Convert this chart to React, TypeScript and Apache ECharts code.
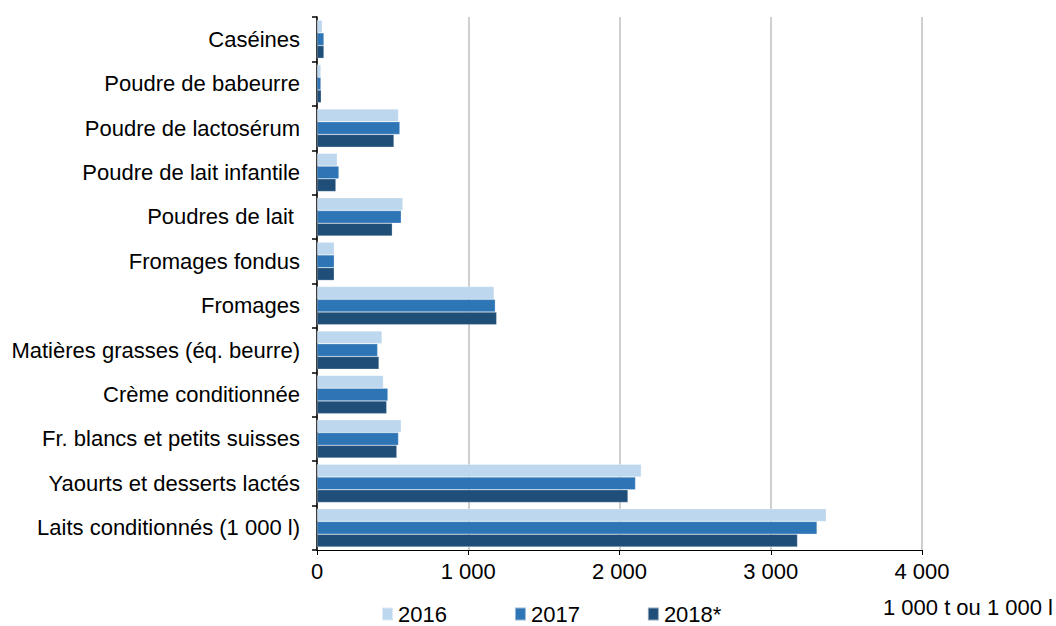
import React, { useEffect, useRef } from "react";
import * as echarts from "echarts";

const categories = [
  "Caséines",
  "Poudre de babeurre",
  "Poudre de lactosérum",
  "Poudre de lait infantile",
  "Poudres de lait ",
  "Fromages fondus",
  "Fromages",
  "Matières grasses (éq. beurre)",
  "Crème conditionnée",
  "Fr. blancs et petits suisses",
  "Yaourts et desserts lactés",
  "Laits conditionnés (1 000 l)",
];
const v2016 = [35, 26, 539, 134, 568, 114, 1171, 430, 439, 557, 2144, 3367];
const v2017 = [46, 26, 548, 145, 557, 114, 1179, 401, 469, 539, 2106, 3306];
const v2018 = [46, 28, 509, 125, 498, 114, 1188, 410, 461, 528, 2056, 3177];
const seriesNames = ["2016", "2017", "2018*"];
const colors = ["#BDD7EE", "#2E75B6", "#1F4E79"];
const unitLabel = "1 000 t ou 1 000 l";

const FONT = "'Liberation Sans', Arial, sans-serif";

export default function App() {
  const ref = useRef<HTMLDivElement>(null);
  useEffect(() => {
    if (!ref.current) return;
    const chart = echarts.init(ref.current, null, { renderer: "svg" });
    const data = [v2016, v2017, v2018];
    chart.setOption({
      animation: false,
      textStyle: { fontFamily: FONT },
      grid: { left: 317, right: 134, top: 17, bottom: 76 },
      legend: {
        data: seriesNames,
        left: 376,
        top: 598,
        itemWidth: 11,
        itemHeight: 13,
        itemGap: 67,
        icon: "rect",
        textStyle: { fontFamily: FONT, fontSize: 22, color: "#000" },
      },
      xAxis: {
        type: "value",
        min: 0,
        max: 4000,
        interval: 1000,
        axisLine: { show: true, lineStyle: { color: "#000", width: 1 } },
        axisTick: { show: true, length: 5, lineStyle: { color: "#000" } },
        splitLine: { show: true, lineStyle: { color: "#BFBFBF", width: 1.5 } },
        axisLabel: {
          fontFamily: FONT,
          fontSize: 22,
          color: "#000",
          margin: 10,
          formatter: (v: number) =>
            String(v).replace(/\B(?=(\d{3})+(?!\d))/g, " "),
        },
      },
      yAxis: {
        type: "category",
        data: categories,
        inverse: true,
        axisLine: { show: true, lineStyle: { color: "#000", width: 1.5 } },
        axisTick: { show: true, length: 5, lineStyle: { color: "#000", width: 1.5 } },
        axisLabel: { fontFamily: FONT, fontSize: 22, color: "#000", margin: 17 },
      },
      series: seriesNames.map((name, i) => ({
        name,
        type: "bar",
        data: data[i],
        barGap: "0%",
        barCategoryGap: "14%",
        itemStyle: { color: colors[i], borderColor: "rgba(255,255,255,0.5)", borderWidth: 0.5 },
      })),
      graphic: [
        {
          type: "text",
          right: 3,
          top: 596,
          style: { text: unitLabel, font: `22px ${FONT}`, fill: "#000" },
        },
      ],
    });
    return () => chart.dispose();
  }, []);
  return (
    <div
      ref={ref}
      style={{ position: "fixed", left: 0, top: 0, width: 1056, height: 626, background: "#fff" }}
    />
  );
}
